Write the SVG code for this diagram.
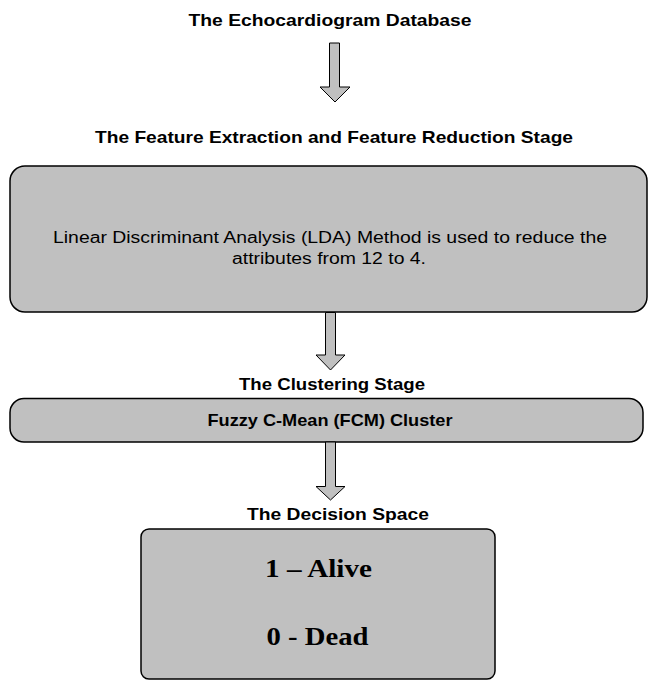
<svg xmlns="http://www.w3.org/2000/svg" width="648" height="681" viewBox="0 0 648 681">
  <style>
    .box { fill: #c0c0c0; stroke: #000; stroke-width: 1.5; }
    .arrow { fill: #c0c0c0; stroke: #000; stroke-width: 1; stroke-linejoin: miter; }
    .title { font-family: "Liberation Sans", Arial, sans-serif; font-weight: bold; font-size: 17px; fill: #000; text-anchor: middle; }
    .body { font-family: "Liberation Sans", Arial, sans-serif; font-size: 16px; fill: #000; text-anchor: middle; }
    .result { font-family: "Liberation Serif", "Times New Roman", serif; font-weight: bold; font-size: 25px; fill: #000; text-anchor: middle; }
  </style>

  <rect width="648" height="681" fill="#fff"/>

  <!-- stage headings -->
  <g id="label-database">
    <text class="title" x="330" y="26" textLength="283" lengthAdjust="spacingAndGlyphs">The Echocardiogram Database</text>
  </g>
  <g id="label-feature-stage">
    <text class="title" x="334" y="143" textLength="478" lengthAdjust="spacingAndGlyphs">The Feature Extraction and Feature Reduction Stage</text>
  </g>
  <g id="label-clustering-stage">
    <text class="title" x="332" y="390" textLength="186" lengthAdjust="spacingAndGlyphs">The Clustering Stage</text>
  </g>
  <g id="label-decision-space">
    <text class="title" x="338" y="520" textLength="182" lengthAdjust="spacingAndGlyphs">The Decision Space</text>
  </g>

  <!-- LDA feature reduction -->
  <g id="node-lda">
    <rect class="box" x="10" y="166" width="637" height="146" rx="15" ry="15"/>
    <text class="body" x="330" y="243" textLength="554" lengthAdjust="spacingAndGlyphs">Linear Discriminant Analysis (LDA) Method is used to reduce the</text>
    <text class="body" x="329" y="264" textLength="194" lengthAdjust="spacingAndGlyphs">attributes from 12 to 4.</text>
  </g>

  <!-- FCM clustering -->
  <g id="node-fcm">
    <rect class="box" x="10" y="398.5" width="633" height="43.5" rx="14" ry="14"/>
    <text class="title" x="330" y="426" textLength="245" lengthAdjust="spacingAndGlyphs">Fuzzy C-Mean (FCM) Cluster</text>
  </g>

  <!-- decision outputs -->
  <g id="node-decision">
    <rect class="box" x="141" y="529" width="354" height="150" rx="8" ry="8"/>
    <text class="result" x="318.5" y="577" textLength="107" lengthAdjust="spacingAndGlyphs">1 – Alive</text>
    <text class="result" x="317.5" y="645" textLength="102" lengthAdjust="spacingAndGlyphs">0 - Dead</text>
  </g>

  <!-- block arrows between stages -->
  <g id="connectors">
    <polygon class="arrow" points="329.5,43 339.5,43 339.5,87 350,87 335,102 320,87 329.5,87"/>
    <polygon class="arrow" points="325.5,312.5 335.5,312.5 335.5,355 345,355 330.5,370 316,355 325.5,355"/>
    <polygon class="arrow" points="325.5,442 335.5,442 335.5,486.5 345,486.5 330.5,500 316,486.5 325.5,486.5"/>
  </g>
</svg>
